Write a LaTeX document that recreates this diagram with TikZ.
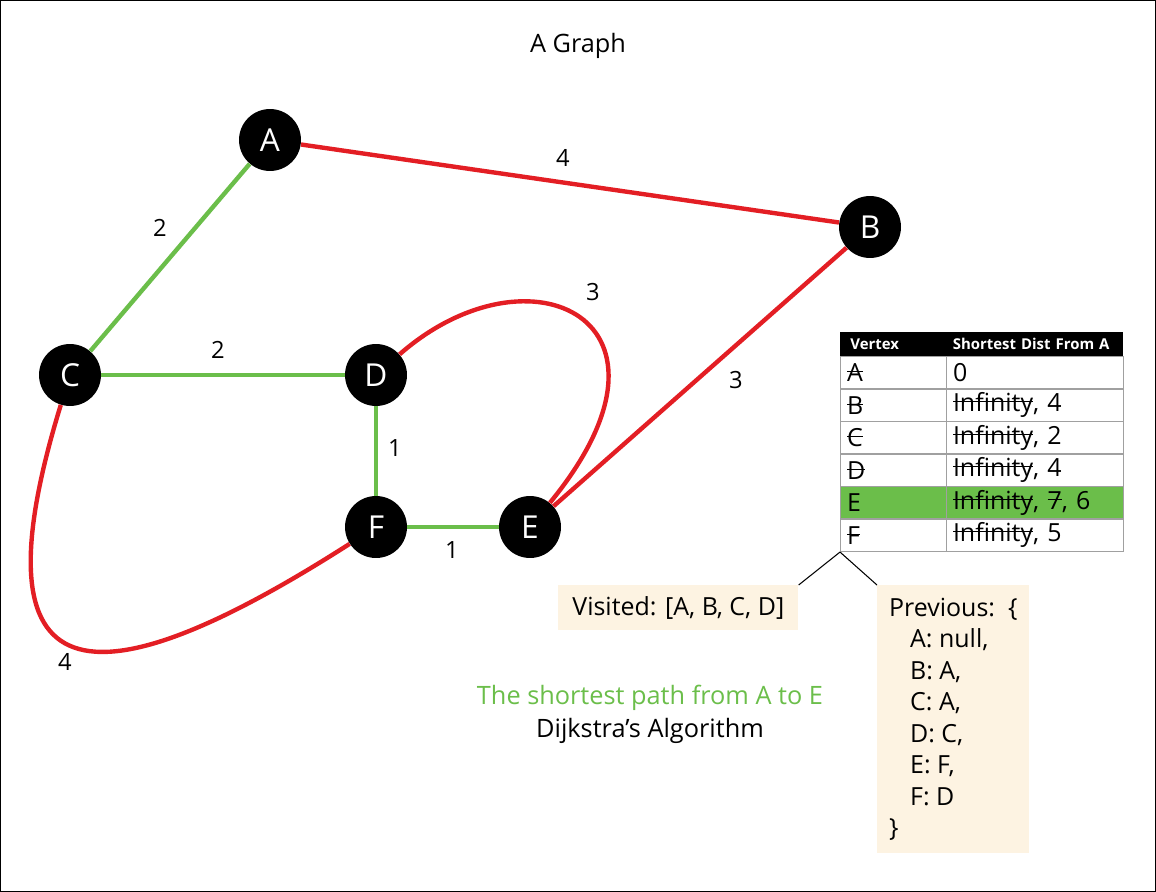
\documentclass[tikz,border=0pt]{standalone}
\usepackage{fontspec}
\setmainfont{Open Sans}
\usetikzlibrary{positioning, calc}
\definecolor{edgered}{HTML}{E31E24}
\definecolor{pathgreen}{HTML}{6BBE4A}
\definecolor{notebg}{HTML}{FDF3E2}
\definecolor{gridgray}{HTML}{A0A0A0}
\newsavebox\strkbox
\newcommand{\strk}[1]{\sbox\strkbox{#1}\rlap{\rule[0.38em]{\wd\strkbox}{0.6pt}}\usebox\strkbox}
\tikzset{
  vtx/.style={circle, fill=black, text=white, minimum size=1.24cm, inner sep=0pt,
              font=\fontsize{18}{18}\selectfont},
  rededge/.style={draw=edgered, line width=2.5pt},
  grnedge/.style={draw=pathgreen, line width=2.5pt},
  wt/.style={font=\fontsize{13.5}{13.5}\selectfont, inner sep=1pt},
  txt/.style={font=\fontsize{14.4}{17}\selectfont, inner sep=1pt},
  hcell/.style={fill=black, text=white, anchor=north west, minimum height=0.48cm,
                inner ysep=0pt, align=left, font=\fontsize{8.5}{10}\bfseries},
  cell/.style={draw=gridgray, line width=0.6pt, anchor=north west, minimum height=0.65cm,
               inner xsep=0.13cm, inner ysep=0pt, align=left, font=\fontsize{14.2}{16}\selectfont},
  note/.style={fill=notebg, anchor=north west, align=left, font=\fontsize{14.2}{17.9}\selectfont},
  ptr/.style={draw=black, line width=0.6pt},
}

\begin{document}
\begin{tikzpicture}[x=0.02cm, y=-0.02cm]
  \useasboundingbox (0,0) rectangle (1156,892);
  \draw[line width=0.8pt] (0.5,0.5) rectangle (1155.5,891.5);
  \node[txt] (title) at (578,46) {A Graph};

  % vertices
  \node[vtx] (A) at (270,140) {A};
  \node[vtx] (B) at (870,227) {B};
  \node[vtx] (C) at (70,375) {C};
  \node[vtx] (D) at (376,375) {D};
  \node[vtx] (F) at (376,527) {F};
  \node[vtx] (E) at (530,527) {E};

  % edges
  \draw[rededge] (A) -- (B);
  \draw[rededge] (B) -- (E);
  \draw[rededge] (D) .. controls (530,240) and (700,320) .. (E);
  \draw[rededge] (C) .. controls (-30,700) and (90,710) .. (F);
  \draw[grnedge] (A) -- (C);
  \draw[grnedge] (C) -- (D);
  \draw[grnedge] (D) -- (F);
  \draw[grnedge] (F) -- (E);

  % weights
  \node[wt] (wAB) at (563,158) {4};
  \node[wt] (wAC) at (160,228) {2};
  \node[wt] (wCD) at (218,350) {2};
  \node[wt] (wDF) at (395,448) {1};
  \node[wt] (wFE) at (452,550) {1};
  \node[wt] (wBE) at (736,380) {3};
  \node[wt] (wDE) at (593,292) {3};
  \node[wt] (wCF) at (65,662) {4};

  % distance table
  \node[hcell, inner xsep=0.2cm, text width=1.72cm] (hv) at (840,332) {Vertex};
  \node[hcell, inner xsep=0.13cm, text width=3.28cm] (hd) at (946,332) {Shortest Dist From A};
  \fill[pathgreen] (840,486) rectangle (1123,519);
  \foreach \i/\v/\d in {1/\strk{A}/0, 2/\strk{B}/{\strk{Infinity}, 4}, 3/\strk{C}/{\strk{Infinity}, 2},
                        4/\strk{D}/{\strk{Infinity}, 4}, 5/E/{\strk{Infinity}, \strk{7}, 6}, 6/\strk{F}/{\strk{Infinity}, 5}}{
    \node[cell, text width=1.86cm] (v\i) at (840,{356+32.5*(\i-1)}) {\v};
    \node[cell, text width=3.28cm] (d\i) at (946,{356+32.5*(\i-1)}) {\d};
  }

  % notes
  \node[note, minimum width=4.8cm, minimum height=0.9cm, inner xsep=0.28cm] (vis) at (558,585) {Visited: [A, B, C, D]};
  \node[note, minimum width=3.04cm, minimum height=5.36cm, inner xsep=0.2cm] (prev) at (877,585)
    {Previous:\ \ \{\\ \hspace*{0.42cm}A: null,\\ \hspace*{0.42cm}B: A,\\ \hspace*{0.42cm}C: A,\\
     \hspace*{0.42cm}D: C,\\ \hspace*{0.42cm}E: F,\\ \hspace*{0.42cm}F: D\\ \}};
  \draw[ptr] (v6.south west) -- (vis.north east);
  \draw[ptr] (v6.south west) -- (prev.north west);

  \node[txt, text=pathgreen] (cap1) at (650,698) {The shortest path from A to E};
  \node[txt] (cap2) at (650,731) {Dijkstra’s Algorithm};
\end{tikzpicture}
\end{document}
